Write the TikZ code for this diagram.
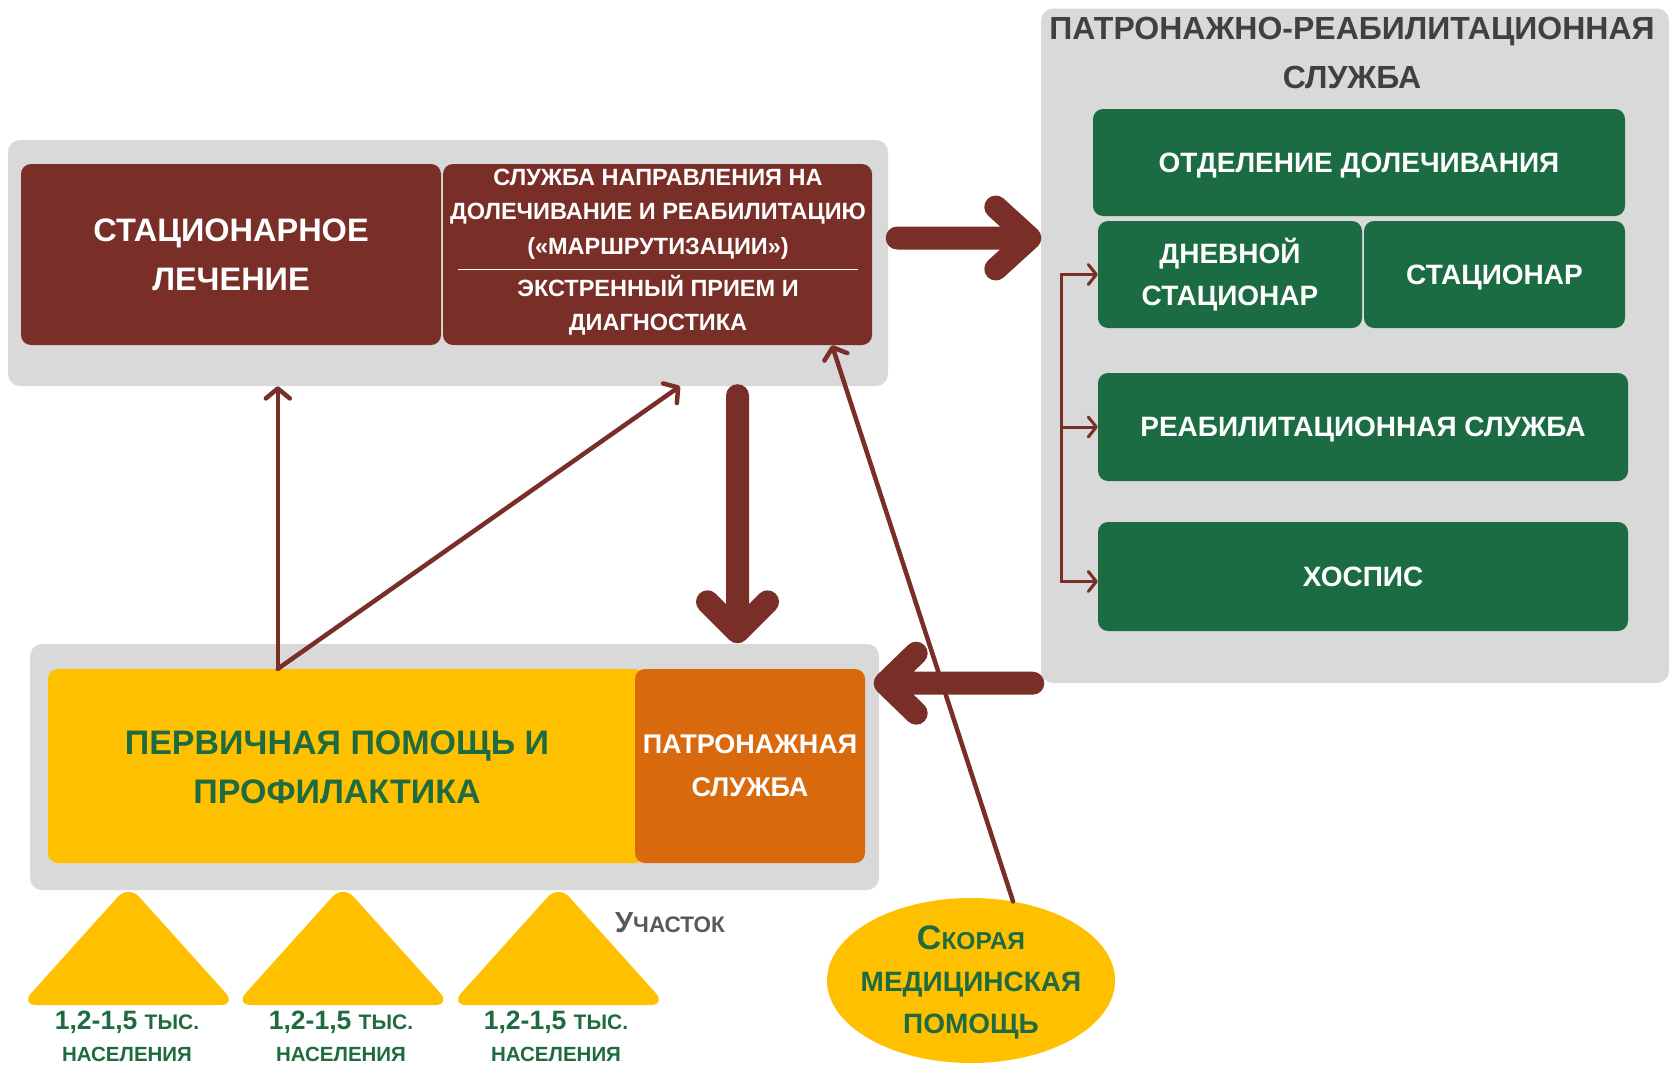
\documentclass[tikz,border=0pt]{standalone}
\usepackage{fontspec}
\setmainfont{Liberation Sans}
\usetikzlibrary{arrows.meta,calc,shapes.geometric}
\definecolor{dred}{HTML}{7A2E28}
\definecolor{lgray}{HTML}{D9D9D9}
\definecolor{dgreen}{HTML}{1C6C43}
\definecolor{gtext}{HTML}{1E6B41}
\definecolor{myyellow}{HTML}{FFC000}
\definecolor{myorange}{HTML}{D9690D}
\definecolor{titlegray}{HTML}{404040}
\definecolor{labgray}{HTML}{595959}
\newcommand\fs[2]{\fontsize{#1}{#2}\selectfont}
\begin{document}
\begin{tikzpicture}[x=1pt,y=-1pt,
  panel/.style={fill=lgray, rounded corners=12pt, inner sep=0pt},
  redbox/.style={fill=dred, rounded corners=10pt, inner sep=0pt, text=white, align=center},
  greenbox/.style={fill=dgreen, rounded corners=10pt, inner sep=0pt, text=white, align=center, text depth=0pt, font={\bfseries\fs{28}{42}}},
  bigarr/.style={draw=dred, line width=23pt, line cap=round, line join=round},
  thinarr/.style={draw=dred, line width=4.5pt, line cap=round, -{Straight Barb[round,length=10pt,width=24pt]}},
  brline/.style={draw=dred, line width=3pt},
  brtip/.tip={Straight Barb[round,length=8pt,width=20pt]},
  lab/.style={inner sep=0pt, align=center},
  poplab/.style={lab, text=gtext, font={\bfseries\fs{20.5}{32}}},
]
\fill[white] (0,0) rectangle (1671,1066);
\useasboundingbox (0,0) rectangle (1671,1066);

% top panel
\node[panel, minimum width=880pt, minimum height=246pt] (topgray) at (448,263) {};
\node[redbox, minimum width=420pt, minimum height=181pt, font={\bfseries\fs{32.5}{49}}] (stac) at (231,254.5) {СТАЦИОНАРНОЕ\\ЛЕЧЕНИЕ};
\node[redbox, minimum width=429pt, minimum height=181pt] (sluzh) at (657.5,254.5) {};
\node[lab, text=white, font={\bfseries\fs{23.5}{34.5}}] (sl1) at (658,214) {СЛУЖБА НАПРАВЛЕНИЯ НА\\ДОЛЕЧИВАНИЕ И РЕАБИЛИТАЦИЮ\\(«МАРШРУТИЗАЦИИ»)};
\draw[white, line width=1pt] ($(sluzh.west)+(15,14.5)$) -- ($(sluzh.east)+(-14,14.5)$);
\node[lab, text=white, font={\bfseries\fs{23.5}{34.5}}] (sl2) at (658,305) {ЭКСТРЕННЫЙ ПРИЕМ И\\ДИАГНОСТИКА};

% right panel
\node[panel, minimum width=628pt, minimum height=674.5pt] (rgray) at (1355,345.75) {};
\node[lab, text=titlegray, font={\bfseries\fs{32}{49}}] (title) at (1352,52.5) {ПАТРОНАЖНО-РЕАБИЛИТАЦИОННАЯ\\СЛУЖБА};
\node[greenbox, minimum width=532pt, minimum height=107pt] (otd) at (1359,162.5) {ОТДЕЛЕНИЕ ДОЛЕЧИВАНИЯ};
\node[greenbox, text depth=5pt, minimum width=264pt, minimum height=107pt] (dnev) at (1230,274.5) {ДНЕВНОЙ\\СТАЦИОНАР};
\node[greenbox, minimum width=261pt, minimum height=107pt] (stac2) at (1494.5,274.5) {СТАЦИОНАР};
\node[greenbox, minimum width=530pt, minimum height=108pt] (reab) at (1363,427) {РЕАБИЛИТАЦИОННАЯ СЛУЖБА};
\node[greenbox, minimum width=530pt, minimum height=109pt] (hosp) at (1363,576.5) {ХОСПИС};

% bottom panel
\node[panel, minimum width=849pt, minimum height=246pt] (bgray) at (454.5,767) {};
\node[fill=myyellow, rounded corners=10pt, inner sep=0pt, minimum width=597pt, minimum height=194pt] (yellow) at (346.5,766) {};
\node[fill=myorange, rounded corners=10pt, inner sep=0pt, minimum width=230pt, minimum height=194pt, text=white, align=center, font={\bfseries\fs{27}{43}}] (orange) at (750,766) {ПАТРОНАЖНАЯ\\СЛУЖБА};
\node[lab, text=gtext, font={\bfseries\fs{34}{49}}] (perv) at (337,767) {ПЕРВИЧНАЯ ПОМОЩЬ И\\ПРОФИЛАКТИКА};

% ambulance
\node[ellipse, fill=myyellow, minimum width=288pt, minimum height=165pt, inner sep=0pt] (skor) at (971,980.5) {};
\node[lab, text=gtext, font={\bfseries\fs{28}{42}}] (skort) at (971,982) {{\fs{34}{42}С}{\fs{24.5}{42}КОРАЯ}\\МЕДИЦИНСКАЯ\\ПОМОЩЬ};

% triangles
\foreach \c in {128.5,343,558.5}{
  \fill[myyellow, rounded corners=16pt] (\c,1005) -- (\c+108,1005) -- (\c,885) -- (\c-108,1005) -- cycle;
}
\node[poplab] (t1) at (127,1036.5) {{\fs{26.5}{32}1,2-1,5 }{\fs{21}{32}ТЫС.}\\НАСЕЛЕНИЯ};
\node[poplab] (t2) at (341,1036.5) {{\fs{26.5}{32}1,2-1,5 }{\fs{21}{32}ТЫС.}\\НАСЕЛЕНИЯ};
\node[poplab] (t3) at (556,1036.5) {{\fs{26.5}{32}1,2-1,5 }{\fs{21}{32}ТЫС.}\\НАСЕЛЕНИЯ};
\node[lab, text=labgray, font=\bfseries] (uch) at (670,923) {{\fs{29}{30}У}{\fs{22.5}{30}ЧАСТОК}};

% big arrows
\coordinate (r1) at ($(topgray.east)+(9,-25)$);
\coordinate (r2) at ($(r1 -| rgray.west)+(-11,0)$);
\draw[bigarr] (r1) -- (r2) +(-34,-31) -- (r2) -- +(-34,31);
\coordinate (d1) at ($(topgray.south)+(289.5,9.5)$);
\coordinate (d2) at ($(d1 |- bgray.north)+(0,-12)$);
\draw[bigarr] (d1) -- (d2) +(-30,-30) -- (d2) -- +(30,-30);
\coordinate (l1) at ($(rgray.south west)+(-8,0)$);
\coordinate (l2) at ($(l1 -| bgray.east)+(6,0)$);
\draw[bigarr] (l1) -- (l2) +(31,-30) -- (l2) -- +(31,30);

% thin arrows
\coordinate (pv) at ($(yellow.north west)+(230,0)$);
\draw[thinarr] (pv) -- (pv |- topgray.south);
\draw[thinarr] (pv) -- ($(topgray.south)+(232,0)$);
\draw[thinarr] (skor.62) -- ($(sluzh.south)+(174.5,0)$);

% bracket
\coordinate (bx) at (1061,0);
\coordinate (hy) at ($(hosp.west)+(0,5)$);
\draw[brline, brtip-brtip] (dnev.west) -- (bx |- dnev.west) -- (bx |- hy) -- (hy);
\draw[brline, -brtip] (bx |- reab.west) -- (reab.west);
\end{tikzpicture}
\end{document}
